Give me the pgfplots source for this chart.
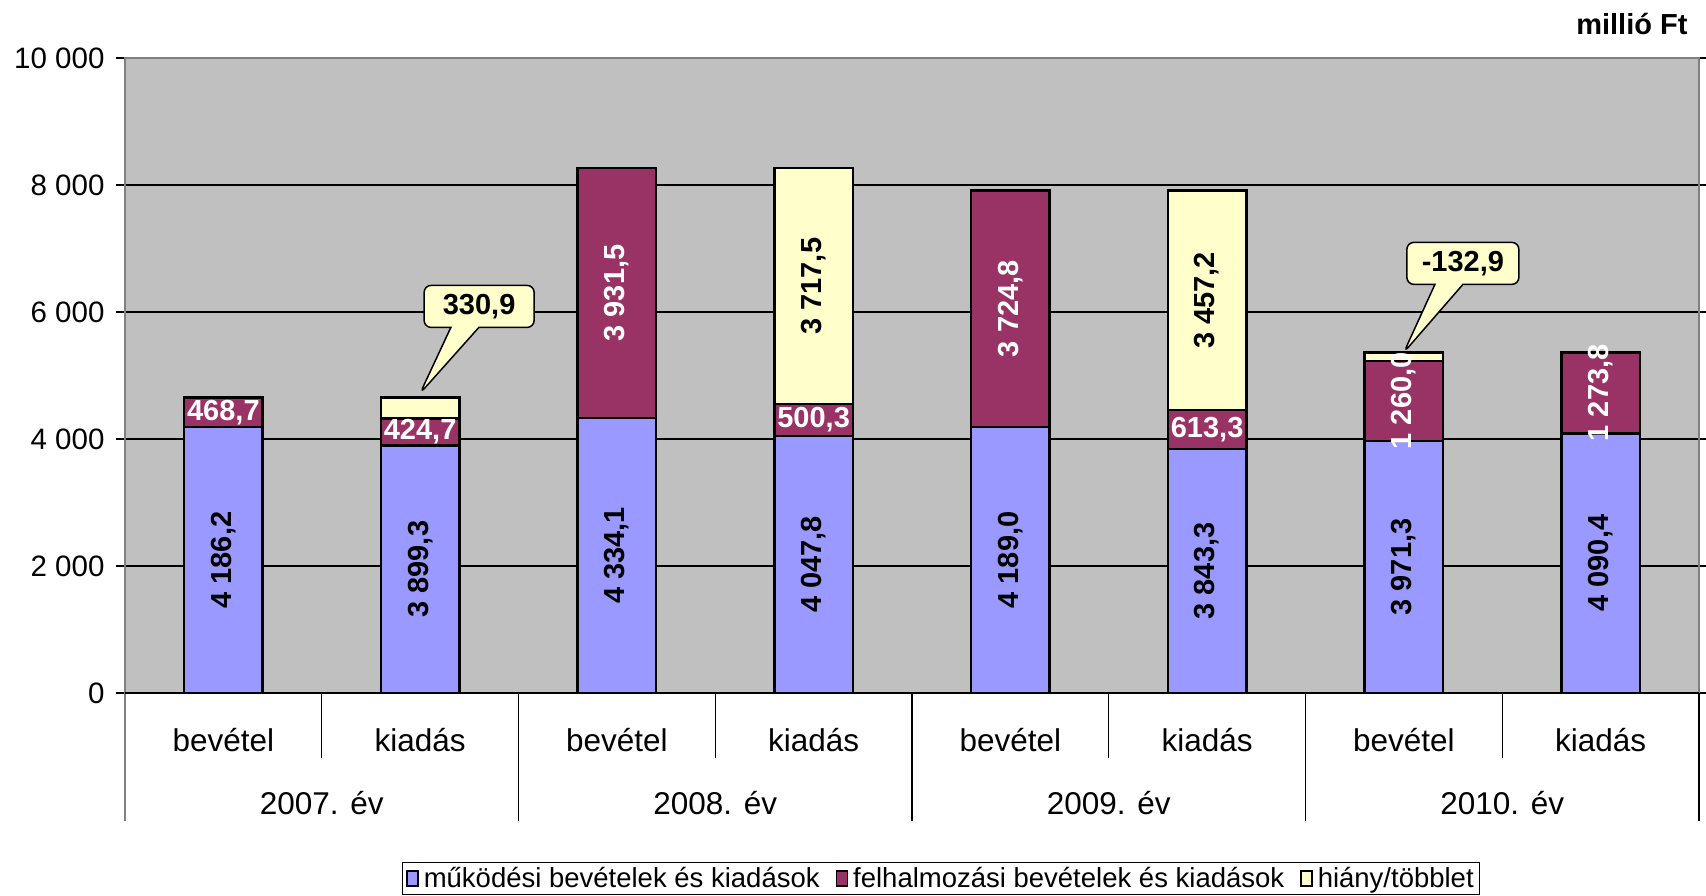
\documentclass[border=0pt]{standalone}
\usepackage{pgfplots}
\pgfplotsset{compat=1.18}
\usepackage{pgfplotstable}
\usepackage{fontspec}
\setmainfont{Liberation Sans}
\usetikzlibrary{shapes.callouts,calc}

\definecolor{mukod}{HTML}{9999FF}
\definecolor{felh}{HTML}{993366}
\definecolor{hiany}{HTML}{FFFFCC}
\definecolor{plotbg}{HTML}{C0C0C0}
\definecolor{framegray}{HTML}{808080}

\newcommand\lblfont{\fontsize{29}{34}\selectfont\bfseries}
\newcommand\catfont{\fontsize{31.5}{36}\selectfont}
\newcommand\tickfont{\fontsize{29.5}{34}\selectfont}

% budget per year: operating, capital, deficit/surplus (million Ft)
\pgfplotstableread{
x mukod mlab felh flab frot hiany hlab
0 4186.2 {4 186,2} 468.7 {468,7} 0 0 {}
1 3899.3 {3 899,3} 424.7 {424,7} 0 330.9 {}
2 4334.1 {4 334,1} 3931.5 {3 931,5} 90 0 {}
3 4047.8 {4 047,8} 500.3 {500,3} 0 3717.5 {3 717,5}
4 4189.0 {4 189,0} 3724.8 {3 724,8} 90 0 {}
5 3843.3 {3 843,3} 613.3 {613,3} 0 3457.2 {3 457,2}
6 3971.3 {3 971,3} 1260.0 {1 260,0} 90 132.9 {}
7 4090.4 {4 090,4} 1273.8 {1 273,8} 90 0 {}
}\budget

\pgfplotsset{
  legsq/.style={draw=black, line width=1.5pt,
    legend image code/.code={\draw[##1] (0pt,-7.5pt) rectangle (11pt,7.5pt);}},
  seglabel/.style={
    nodes near coords,
    point meta=explicit symbolic,
  },
}

\begin{document}
\begin{tikzpicture}[x=1pt,y=1pt]
\useasboundingbox (0,0) rectangle (1706,896);
\begin{axis}[
  at={(125pt,203pt)}, anchor=south west,
  width=1574pt, height=635pt, scale only axis,
  xmin=-0.5, xmax=7.5, ymin=0, ymax=10000,
  ybar stacked, bar width=0.4,
  axis background/.style={fill=plotbg},
  axis line style={draw=framegray, line width=2pt},
  xtick=\empty,
  ytick={0,2000,4000,6000,8000,10000},
  yticklabels={0,2 000,4 000,6 000,8 000,10 000},
  scaled y ticks=false,
  ymajorgrids, grid style={black, line width=1.2pt},
  ytick style={black, line width=1.2pt},
  tick align=outside, major tick length=9pt,
  yticklabel style={font=\tickfont, xshift=-8pt},
  clip=false,
  legend style={at={(axis description cs:0.5,0)}, anchor=north,
    xshift=29pt, yshift=-169pt, draw=black, line width=1pt, fill=white,
    font=\fontsize{27.5}{32}\selectfont, inner xsep=4pt, inner ysep=3pt,
    /tikz/every even column/.append style={column sep=14pt}},
  legend columns=3,
]
\addlegendimage{legsq, fill=mukod}
\addlegendentry{\hspace{3pt}működési bevételek és kiadások}
\addlegendimage{legsq, fill=felh}
\addlegendentry{\hspace{3pt}felhalmozási bevételek és kiadások}
\addlegendimage{legsq, fill=hiany}
\addlegendentry{\hspace{3pt}hiány/többlet}

\addplot[forget plot, fill=mukod, draw=black, line width=2.5pt, seglabel,
  every node near coord/.style={font=\lblfont, text=black, anchor=center,
    rotate=90}]
  table[x=x, y=mukod, meta=mlab] {\budget};
\addplot[forget plot, fill=felh, draw=black, line width=2.5pt, seglabel,
  visualization depends on=\thisrow{frot} \as \frot,
  every node near coord/.style={font=\lblfont, text=white, anchor=center,
    rotate=\frot}]
  table[x=x, y=felh, meta=flab] {\budget};
\addplot[forget plot, fill=hiany, draw=black, line width=2.5pt, seglabel,
  every node near coord/.style={font=\lblfont, text=black, anchor=center,
    rotate=90}]
  table[x=x, y=hiany, meta=hlab] {\budget};

% zero line
\draw[black, line width=1.5pt] (axis cs:-0.5,0) -- (axis cs:7.5,0);

% category separators below the axis
\draw[black, line width=1.2pt] (axis cs:0.5,0) -- ++(0pt,-65pt);
\draw[black, line width=1.2pt] (axis cs:2.5,0) -- ++(0pt,-65pt);
\draw[black, line width=1.2pt] (axis cs:4.5,0) -- ++(0pt,-65pt);
\draw[black, line width=1.2pt] (axis cs:6.5,0) -- ++(0pt,-65pt);
\draw[framegray, line width=2pt] (axis cs:-0.5,0) -- ++(0pt,-128pt);
\draw[black, line width=1.2pt] (axis cs:1.5,0) -- ++(0pt,-128pt);
\draw[black, line width=1.2pt] (axis cs:3.5,0) -- ++(0pt,-128pt);
\draw[black, line width=1.2pt] (axis cs:5.5,0) -- ++(0pt,-128pt);
\draw[black, line width=1.2pt] (axis cs:7.5,0) -- ++(0pt,-128pt);

% category names
\node[font=\catfont, yshift=-47pt] at (axis cs:0,0) {bevétel};
\node[font=\catfont, yshift=-47pt] at (axis cs:1,0) {kiadás};
\node[font=\catfont, yshift=-47pt] at (axis cs:2,0) {bevétel};
\node[font=\catfont, yshift=-47pt] at (axis cs:3,0) {kiadás};
\node[font=\catfont, yshift=-47pt] at (axis cs:4,0) {bevétel};
\node[font=\catfont, yshift=-47pt] at (axis cs:5,0) {kiadás};
\node[font=\catfont, yshift=-47pt] at (axis cs:6,0) {bevétel};
\node[font=\catfont, yshift=-47pt] at (axis cs:7,0) {kiadás};
\node[font=\catfont, yshift=-110pt] at (axis cs:0.5,0) {2007. év};
\node[font=\catfont, yshift=-110pt] at (axis cs:2.5,0) {2008. év};
\node[font=\catfont, yshift=-110pt] at (axis cs:4.5,0) {2009. év};
\node[font=\catfont, yshift=-110pt] at (axis cs:6.5,0) {2010. év};

% deficit / surplus callouts
\node[rectangle callout, fill=hiany, draw=black, line width=1.5pt,
  rounded corners=7pt, minimum width=110pt, minimum height=42pt,
  inner sep=0pt, font=\lblfont, callout pointer width=28pt,
  callout absolute pointer={(axis cs:1,4720)}]
  at ($(axis cs:1,4654.9)+(59pt,91pt)$) {330,9};
\node[rectangle callout, fill=hiany, draw=black, line width=1.5pt,
  rounded corners=7pt, minimum width=112pt, minimum height=42pt,
  inner sep=0pt, font=\lblfont, callout pointer width=28pt,
  callout absolute pointer={(axis cs:6,5364.2)}]
  at ($(axis cs:6,5364.2)+(59pt,89pt)$) {-132,9};
\end{axis}
\node[anchor=east, font=\lblfont] at (1691,872) {millió Ft};
\end{tikzpicture}
\end{document}
